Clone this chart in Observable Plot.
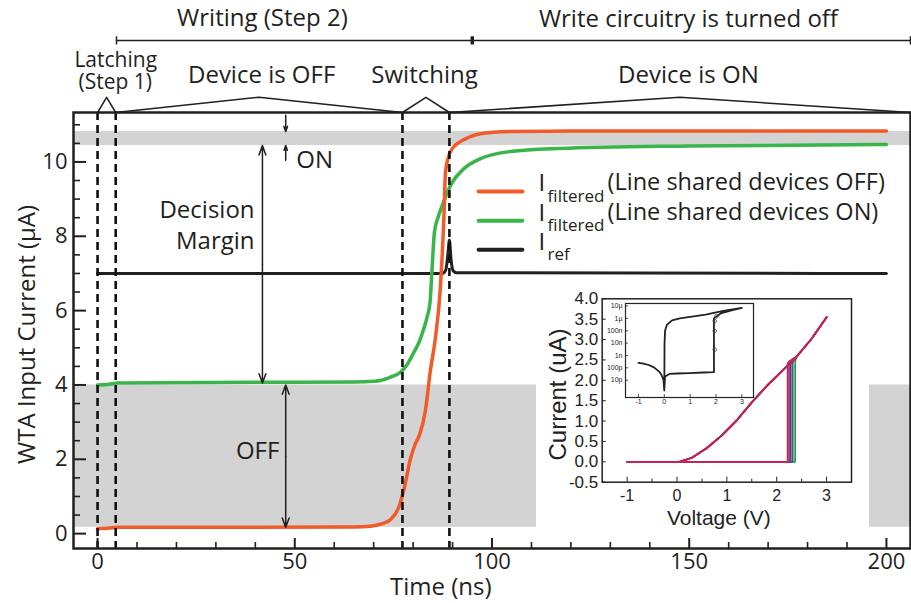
<!DOCTYPE html>
<html><head><meta charset="utf-8">
<script src="https://cdn.jsdelivr.net/npm/d3@7"></script>
<script src="https://cdn.jsdelivr.net/npm/@observablehq/plot@0.6"></script>
<style>
body{margin:0;background:#fff;}
#wrap{position:relative;width:911px;height:603px;overflow:hidden;background:#fff;}
#wrap > div{position:absolute;}
#wrap svg{display:block;}
</style></head><body><div id="wrap"></div>
<script>
// ---------- main chart data ----------
const offTime = [0,3,5,40,65,69.2,72,74.3,76.4,77.7,79.3,80.5,81.6,83.1,84.4,85.7,86.9,87.8,88.2,89,89.9,91.3,92.9,95,97.1,100.4,104.7,120,200];
const offCurrent = [0.13,0.15,0.17,0.17,0.18,0.2,0.26,0.38,0.72,1.2,2.0,2.4,2.65,3.3,4.4,5.3,6.6,8.5,9.7,10.15,10.35,10.5,10.6,10.7,10.76,10.8,10.82,10.83,10.83];
const onTime = [0,3,5,40,65,70,71.7,74,76.8,78.5,80.2,81.5,82.7,83.6,84.3,84.8,85.4,86.3,87.4,89.5,92.9,97.1,104.7,117,150,200];
const onCurrent = [4.0,4.02,4.05,4.07,4.08,4.1,4.12,4.2,4.34,4.55,4.88,5.15,5.51,5.85,6.23,7.12,8.11,8.5,8.83,9.37,9.82,10.09,10.28,10.36,10.43,10.47];
const refTime = [0,87.5,88.3,88.8,89.2,89.6,90.1,91,200];
const refCurrent = [7.0,7.0,7.1,7.5,7.9,7.4,7.08,7.02,7.0];

// phase boundaries (ns) and current levels (uA)
const phaseEdges = [0, 4.6, 77.3, 89.2];
const phaseNames = ["Latching", "Device is OFF", "Switching", "Device is ON"];
const onBand = [10.44, 10.82];
const offBand = [0.17, 4.0];
const marginLow = 4.05;
const writeSpans = [["Writing (Step 2)", 4.8, 95], ["Write circuitry is turned off", 95, null]];

const xMajor = [0, 50, 100, 150, 200];
const xMinor = [10,20,30,40,60,70,80,90,110,120,130,140,160,170,180,190];
const yMajor = [0, 2, 4, 6, 8, 10];
const yMinor = [0.5,1,1.5,2.5,3,3.5,4.5,5,5.5,6.5,7,7.5,8.5,9,9.5,10.5,11];

const legendNames = ["filtered", "filtered", "ref"];
const legendDesc = ["(Line shared devices OFF)", "(Line shared devices ON)", ""];

// ---------- inset data ----------
const ivOnV = [3.0, 2.7, 2.4, 2.1, 1.8, 1.5, 1.2, 0.9, 0.6, 0.3, 0.05, -1.0];
const ivOnI = [3.55, 3.02, 2.58, 2.22, 1.86, 1.46, 1.02, 0.65, 0.34, 0.1, 0.0, 0.0];
const ivSetV = [2.37, 2.32, 2.28, 2.25, 2.22];
const ivSetI = [2.46, 2.52, 2.4, 2.47, 2.42];
const ivColors = ["#3a9a3a", "#2b5fb3", "#4d4d4d", "#8e3fa8", "#d0204a"];

const logV = [-1,-0.8,-0.6,-0.4,-0.2,-0.1,-0.03,0,0.03,0.2,0.5,1.0,1.5,1.92,1.92,2.18,2.6,3.0,2.4,2.0,1.6,1.0,0.6,0.3,0.1,0.03,0.01,0];
const logI = [2.5e-10,2.2e-10,1.7e-10,1.1e-10,5e-11,2.5e-11,1e-11,1.5e-12,2e-11,3.2e-11,3.5e-11,3.8e-11,4.2e-11,4.5e-11,1e-6,2.5e-6,4.5e-6,7e-6,4.5e-6,3e-6,2e-6,1.3e-6,1e-6,7e-7,3e-7,1e-7,1e-8,1.5e-12];
const logMarkV = [1.95, 1.95, 1.95, 2.02];
const logMarkI = [3e-9, 1e-7, 6e-7, 1.5e-6];
const logTicks = [1e-11,1e-10,1e-9,1e-8,1e-7,1e-6,1e-5];
const logLabels = ["10p","100p","1n","10n","100n","1\u00b5","10\u00b5"];

// ---------- styles ----------
const ORANGE = "#f15a29", GREEN = "#39b54a", INK = "#231f20", GRAY = "#d3d3d3";
const FONT = "Open Sans";

const W = 911, H = 603, mL = 73, mR = 1, mT = 112, mB = 55;
const xDom = [-6.1, 206.1], yDom = [-0.4, 11.33];
const frameW = W - mL - mR, frameH = H - mT - mB;
const tentPeak = 11.74;

const zip = (a, b) => a.map((v, i) => ({x: v, y: b[i]}));
const offData = zip(offTime, offCurrent);
const onData = zip(onTime, onCurrent);
const refData = zip(refTime, refCurrent);

const bands = [{y1: onBand[0], y2: onBand[1]}, {y1: offBand[0], y2: offBand[1]}];

const phases = phaseNames.map((n, i) => ({name: n, start: phaseEdges[i], end: i < phaseEdges.length - 1 ? phaseEdges[i + 1] : xDom[1]}));
const tents = phases.flatMap((p, i) => [
  {z: i, x: p.start, y: yDom[1]}, {z: i, x: (p.start + p.end) / 2, y: tentPeak}, {z: i, x: p.end, y: yDom[1]}]);

const spans = writeSpans.map(([label, s, e]) => ({label, start: s, end: e == null ? xDom[1] : e}));
const spanY = 13.27;
const spanTicks = [{x: spans[0].start, w: 1.5}, {x: spans[0].end, w: 3.5}, {x: spans[1].end, w: 1.5}];

const labels = [
  {text: spans[0].label, x: 41.8, y: 13.65, a: "middle", s: 24},
  {text: spans[1].label, x: 149.8, y: 13.62, a: "middle", s: 24},
  {text: "Latching", x: 4.6, y: 12.56, a: "middle", s: 21},
  {text: "(Step 1)", x: 4.5, y: 11.96, a: "middle", s: 21},
  {text: phaseNames[1], x: 41.6, y: 12.12, a: "middle", s: 24},
  {text: phaseNames[2], x: 82.9, y: 12.12, a: "middle", s: 24},
  {text: phaseNames[3], x: 149.8, y: 12.12, a: "middle", s: 24},
  {text: "ON", x: 50.4, y: 9.83, a: "start", s: 24},
  {text: "Decision", x: 39.8, y: 8.48, a: "end", s: 24},
  {text: "Margin", x: 39.8, y: 7.65, a: "end", s: 24},
  {text: "OFF", x: 46.1, y: 2.02, a: "end", s: 24}
];
const labelMarks = ["start", "middle", "end"].map(a =>
  Plot.text(labels.filter(d => d.a === a), {x: "x", y: "y", text: "text", textAnchor: a, fontSize: d => d.s, lineAnchor: "bottom", fill: INK}));

const xDM = 41.8, xOO = 47.7;
const midDM = (onBand[0] + marginLow) / 2, midOFF = (offBand[0] + offBand[1]) / 2;
const arrows = [
  {x: xDM, from: midDM, to: onBand[0]}, {x: xDM, from: midDM, to: marginLow},
  {x: xOO, from: midOFF, to: offBand[1]}, {x: xOO, from: midOFF, to: offBand[0]},
  {x: xOO, from: 11.255, to: onBand[1]}, {x: xOO, from: 10.044, to: onBand[0]}
];

const legendColors = [ORANGE, GREEN, INK];
const legendRows = legendNames.map((n, i) => ({
  name: n, desc: legendDesc[i], color: legendColors[i], y: [9.205, 8.42, 7.64][i]
}));

const main = Plot.plot({
  width: W, height: H, marginLeft: mL, marginRight: mR, marginTop: mT, marginBottom: mB,
  x: {domain: xDom}, y: {domain: yDom},
  style: {fontFamily: FONT, background: "white", color: INK},
  marks: [
    Plot.rect(bands, {x1: xDom[0], x2: xDom[1], y1: "y1", y2: "y2", fill: GRAY}),
    Plot.line(refData, {x: "x", y: "y", stroke: INK, strokeWidth: 3, curve: "monotone-x"}),
    Plot.line(onData, {x: "x", y: "y", stroke: GREEN, strokeWidth: 3.5, curve: "monotone-x"}),
    Plot.line(offData, {x: "x", y: "y", stroke: ORANGE, strokeWidth: 3.5, curve: "monotone-x"}),
    Plot.ruleX(phaseEdges, {stroke: "#111", strokeWidth: 2.6, strokeDasharray: "8,5"}),
    Plot.arrow(arrows, {x1: "x", y1: "from", x2: "x", y2: "to", stroke: INK, strokeWidth: 1.5, headLength: 10, headAngle: 40}),
    // legend
    Plot.link(legendRows, {x1: 96.6, x2: 107.7, y1: "y", y2: "y", stroke: "color", strokeWidth: 4, strokeLinecap: "round"}),
    Plot.text(legendRows, {x: 111.8, y: "y", text: () => "I", fontSize: 24, textAnchor: "start", lineAnchor: "bottom", fill: INK}),
    Plot.text(legendRows, {x: 114.1, y: d => d.y - 0.27, text: "name", fontSize: 17, textAnchor: "start", lineAnchor: "bottom", fill: INK}),
    Plot.text(legendRows, {x: 129.3, y: d => d.y + 0.03, text: "desc", fontSize: 23.5, textAnchor: "start", lineAnchor: "bottom", fill: INK}),
    // frame and ticks
    Plot.frame({stroke: INK, strokeWidth: 2.5}),
    Plot.tickX(xMajor, {stroke: INK, strokeWidth: 2, insetTop: frameH - 10}),
    Plot.tickX(xMinor, {stroke: INK, strokeWidth: 1.6, insetTop: frameH - 6}),
    Plot.tickY(yMajor, {stroke: INK, strokeWidth: 2, insetRight: frameW - 13}),
    Plot.tickY(yMinor, {stroke: INK, strokeWidth: 1.6, insetRight: frameW - 7}),
    Plot.axisX({ticks: xMajor, tickSize: 0, tickPadding: 5, fontSize: 22, label: null}),
    Plot.axisY({ticks: yMajor, tickSize: 0, tickPadding: 6, fontSize: 22, label: null}),
    Plot.text(["Time (ns)"], {x: 87, y: -1.64, fontSize: 24, lineAnchor: "bottom", fill: INK}),
    Plot.text(["WTA Input Current (\u00b5A)"], {x: -17.7, y: 5.36, rotate: -90, fontSize: 24, fill: INK}),
    // top annotations
    Plot.line(tents, {x: "x", y: "y", z: "z", stroke: INK, strokeWidth: 1.5}),
    Plot.link(spans, {x1: "start", x2: "end", y1: spanY, y2: spanY, stroke: INK, strokeWidth: 1.5}),
    Plot.link(spanTicks, {x1: "x", x2: "x", y1: spanY + 0.11, y2: spanY - 0.11, stroke: INK, strokeWidth: "w"}),
    ...labelMarks
  ]
});

// ---------- inset (I-V) ----------
const iW = 333, iH = 245, iL = 65.7, iR = 18, iT = 13.3, iB = 48.3;
const iFW = iW - iL - iR, iFH = iH - iT - iB;
const ivTraces = ivSetV.map((vs, k) => {
  const up = ivOnV.map((v, i) => [v, ivOnI[i]]).filter(p => p[0] > vs).reverse();
  const down = ivOnV.map((v, i) => [v, ivOnI[i]]);
  return {color: ivColors[k], pts: [[-1, 0], [vs, 0], [vs, ivSetI[k]], ...up, ...down]};
});
const insetXMajor = [-1, 0, 1, 2, 3];
const insetXMinor = [-0.5, 0.5, 1.5, 2.5];
const insetYMajor = [-0.5, 0, 0.5, 1, 1.5, 2, 2.5, 3, 3.5, 4];

const inset = Plot.plot({
  width: iW, height: iH, marginLeft: iL, marginRight: iR, marginTop: iT, marginBottom: iB,
  x: {domain: [-1.5, 3.5]}, y: {domain: [-0.5, 4]},
  style: {background: "white", fontFamily: "Liberation Sans", color: "#222"},
  marks: [
    ...ivTraces.map(t => Plot.line(t.pts, {x: d => d[0], y: d => d[1], stroke: t.color, strokeWidth: 1.8})),
    Plot.frame({stroke: "#222", strokeWidth: 1.5}),
    Plot.tickX(insetXMajor, {stroke: "#222", insetTop: iFH - 5}),
    Plot.tickX(insetXMinor, {stroke: "#222", insetTop: iFH - 3}),
    Plot.tickY(insetYMajor, {stroke: "#222", insetRight: iFW - 4}),
    Plot.axisX({ticks: insetXMajor, tickSize: 0, tickPadding: 7, fontSize: 16, tickFormat: d => String(d), label: null}),
    Plot.axisY({ticks: insetYMajor, tickSize: 0, tickPadding: 4, fontSize: 17, tickFormat: d => d.toFixed(1), label: null}),
    Plot.text(["Voltage (V)"], {frameAnchor: "bottom", textAnchor: "middle", dx: -8, dy: 43, fontSize: 21, lineAnchor: "bottom", fill: "#222"}),
    Plot.text(["Current (uA)"], {frameAnchor: "left", textAnchor: "middle", dx: -44, dy: 4, rotate: -90, fontSize: 24, fill: "#222"})
  ]
});

// ---------- sub-inset (log I-V) ----------
const logData = logV.map((v, i) => ({v, i: logI[i]}));
const logMarks = logMarkV.map((v, i) => ({v, i: logMarkI[i]}));
const sW = 160, sH = 115, sL = 25, sR = 7, sT = 5, sB = 16;
const sub = Plot.plot({
  width: sW, height: sH, marginLeft: sL, marginRight: sR, marginTop: sT, marginBottom: sB,
  x: {domain: [-1.5, 3.45]}, y: {type: "log", domain: [4e-13, 1.6e-5]},
  style: {background: "transparent", fontFamily: "Liberation Sans", color: "#222"},
  marks: [
    Plot.frame({fill: "white", stroke: "#222", strokeWidth: 1.2}),
    Plot.line(logData, {x: "v", y: "i", stroke: "#222", strokeWidth: 1.8}),
    Plot.dot(logMarks, {x: "v", y: "i", r: 1.8, stroke: "#444", strokeWidth: 0.8}),
    Plot.tickX(insetXMajor, {stroke: "#222", strokeWidth: 0.8, insetTop: sH - sT - sB - 3}),
    Plot.tickY(logTicks, {stroke: "#222", strokeWidth: 0.8, insetRight: sW - sL - sR - 3}),
    Plot.axisX({ticks: insetXMajor, tickSize: 0, tickPadding: 2, fontSize: 7, tickFormat: d => String(d), label: null}),
    Plot.axisY({ticks: logTicks, tickSize: 0, tickPadding: 3, fontSize: 7, tickFormat: d => logLabels[logTicks.indexOf(d)], label: null})
  ]
});

const wrap = document.getElementById("wrap");
const place = (el, l, t) => { const d = document.createElement("div"); d.style.left = l + "px"; d.style.top = t + "px"; d.appendChild(el); wrap.appendChild(d); };
place(main, 0, 0);
place(inset, 536, 285);
place(sub, 600, 298);
</script>
</body></html>
